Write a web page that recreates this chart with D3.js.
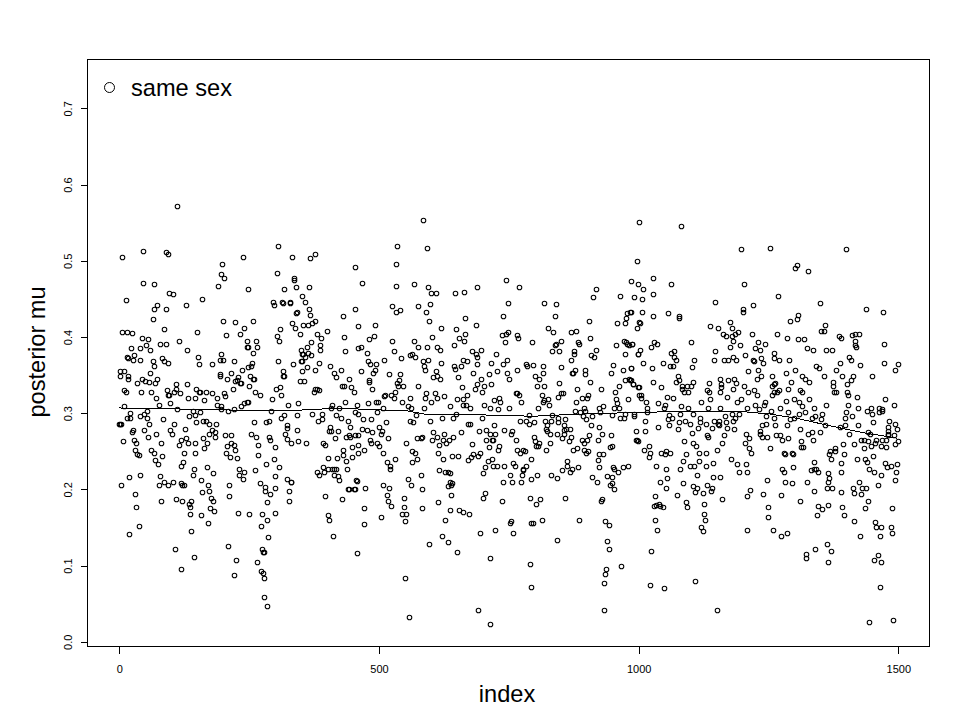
<!DOCTYPE html>
<html><head><meta charset="utf-8">
<script src="https://cdn.jsdelivr.net/npm/d3@7"></script>
<style>html,body{margin:0;background:#fff}svg{display:block}text{font-family:"Liberation Sans",Arial,sans-serif;fill:#000}</style>
</head><body><svg id="c" width="960" height="720"></svg>
<script>
const xTicks=[0,500,1000,1500];
const yTicks=[0,0.1,0.2,0.3,0.4,0.5,0.6,0.7];
const legendLabel="same sex";
const xTitle="index";
const yTitle="posterior mu";
const trendIndex=[0,70,160,250,330,375,430,505,545,592,752,791,868,926,984,1105,1195,1253,1304,1369,1433,1497];
const trendMu=[.3075,.3071,.3053,.3045,.304,.3058,.307,.3048,.3048,.299,.298,.2965,.299,.3004,.3013,.3035,.303,.2996,.294,.284,.275,.268];
const samplesTop=[[112,.572],[6,.505],[46,.513],[90,.512],[94,.510],[198,.496],[239,.505],[195,.483],[202,.478],[191,.467],[247,.464],[306,.520],[333,.505],[368,.504],[376,.509],[454,.493],[304,.485],[337,.478],[336,.475],[318,.463],[341,.466],[366,.466],[351,.455],[358,.447],[46,.471],[66,.470],[12,.449],[96,.458],[104,.457],[73,.442],[67,.438],[89,.438],[129,.442],[160,.450],[64,.424],[87,.411],[6,.407],[15,.407],[25,.406],[150,.407],[200,.421],[223,.420],[258,.421],[241,.412],[233,.405],[206,.403],[295,.446],[297,.442],[314,.446],[316,.445],[329,.446],[329,.445],[366,.437],[368,.430],[340,.432],[342,.433],[431,.428],[453,.437],[460,.415],[377,.421],[372,.419],[364,.417],[354,.417],[333,.419],[339,.413],[310,.411],[347,.404],[304,.402],[381,.404],[389,.399],[399,.408],[433,.400],[44,.399],[56,.398],[115,.396],[245,.396],[264,.396],[308,.396]];
const samplesLeft=[[23,.386],[40,.386],[52,.390],[60,.384],[79,.391],[89,.392],[131,.383],[245,.388],[247,.387],[266,.387],[258,.380],[14,.374],[16,.373],[29,.377],[27,.370],[39,.370],[64,.369],[66,.363],[83,.373],[87,.369],[94,.367],[152,.374],[154,.365],[179,.365],[196,.378],[193,.370],[200,.371],[221,.369],[256,.367],[254,.363],[248,.361],[237,.358],[306,.369],[335,.365],[349,.384],[362,.388],[370,.394],[387,.390],[387,.383],[435,.382],[351,.379],[354,.379],[364,.380],[370,.377],[358,.374],[352,.369],[349,.369],[362,.361],[352,.356],[385,.367],[377,.357],[406,.362],[426,.357],[414,.353],[418,.348],[443,.346],[460,.386],[2,.356],[10,.356],[2,.349],[17,.349],[17,.345],[60,.353],[44,.346],[35,.340],[50,.343],[58,.341],[73,.345],[69,.340],[110,.339],[131,.339],[91,.331],[110,.332],[106,.329],[93,.324],[96,.324],[116,.327],[10,.331],[12,.329],[42,.328],[62,.329],[71,.320],[77,.312],[98,.314],[133,.320],[146,.321],[148,.333],[154,.328],[156,.329],[166,.328],[164,.318],[179,.327],[189,.320],[202,.327],[204,.323],[193,.352],[193,.349],[208,.346],[216,.353],[229,.348],[223,.343],[227,.344],[233,.340],[235,.340],[218,.332],[252,.350],[258,.345],[260,.345],[250,.337],[262,.328],[270,.325],[302,.333],[310,.335],[312,.324],[316,.356],[316,.349],[318,.349],[347,.343],[356,.343],[374,.329],[377,.333],[381,.333],[385,.331],[428,.337],[433,.336],[447,.335],[451,.328],[294,.319],[325,.312],[345,.314],[435,.315],[410,.311],[408,.307],[424,.307],[458,.311],[10,.310],[189,.311],[195,.310],[196,.306],[210,.304],[220,.306],[235,.310],[241,.314],[245,.316],[248,.316],[112,.306],[54,.304],[293,.303],[21,.301],[14,.295],[21,.295],[40,.297],[48,.299],[54,.295],[58,.287],[85,.293],[106,.287],[141,.303],[156,.302],[135,.297],[145,.298],[148,.289],[162,.291],[166,.290],[173,.286],[187,.286],[260,.289],[283,.289],[289,.290],[312,.294],[318,.298],[343,.298],[372,.300],[391,.300],[391,.293],[383,.291],[418,.298],[426,.294],[453,.302],[460,.300],[441,.290],[445,.283],[2,.286],[0,.286],[4,.286],[406,.283],[404,.277],[408,.277],[422,.277],[323,.285],[323,.281],[343,.278],[320,.274],[27,.278],[25,.276],[48,.278],[71,.273],[56,.270],[98,.278],[102,.274],[127,.280],[173,.274],[179,.278],[185,.276],[185,.269],[204,.272],[216,.272],[254,.274],[264,.270],[289,.270],[291,.266],[322,.267],[331,.262],[345,.264],[360,.262],[416,.268],[437,.270],[443,.272],[445,.269],[454,.272],[460,.272],[8,.264],[29,.265],[33,.262],[81,.261],[118,.266],[129,.268],[133,.261],[145,.261],[162,.268],[168,.262],[114,.259],[208,.257],[216,.261],[220,.259],[268,.259],[300,.256],[393,.261],[397,.259],[431,.253],[449,.256],[460,.259],[164,.255],[62,.252],[67,.249],[31,.252],[35,.247],[37,.246],[125,.249],[146,.249],[206,.248],[214,.243],[227,.242],[223,.252],[268,.246],[401,.242],[420,.242],[430,.246],[437,.238],[449,.243],[460,.248],[83,.244],[69,.239],[75,.234],[123,.236],[118,.231],[143,.228],[168,.230],[297,.240],[283,.234],[308,.230],[262,.226],[231,.228],[241,.224],[181,.222],[141,.219],[231,.219],[239,.214],[300,.218],[393,.230],[402,.228],[410,.228],[414,.228],[418,.228],[439,.227],[381,.223],[385,.220],[395,.223],[414,.219],[422,.218],[424,.213],[39,.219],[19,.217],[79,.218],[4,.207],[87,.211],[77,.206],[93,.206],[104,.210],[121,.207],[125,.207],[158,.213],[171,.207],[322,.214],[331,.210],[212,.207],[270,.209],[281,.204],[299,.202],[443,.201],[453,.201],[456,.213]];
const samplesLow=[[31,.195],[33,.178],[37,.152],[19,.142],[81,.185],[110,.188],[121,.185],[119,.209],[160,.197],[173,.199],[139,.185],[135,.182],[137,.177],[137,.168],[158,.167],[170,.156],[139,.146],[177,.189],[181,.186],[175,.176],[183,.172],[212,.192],[229,.170],[250,.169],[274,.168],[299,.170],[285,.160],[272,.153],[287,.138],[281,.199],[291,.195],[285,.184],[326,.185],[327,.198],[331,.210],[210,.127],[108,.122],[143,.112],[225,.108],[266,.106],[119,.096],[220,.088],[274,.123],[276,.119],[279,.118],[272,.093],[276,.091],[278,.084],[279,.060],[285,.047],[397,.192],[401,.167],[403,.161],[412,.139],[441,.201],[451,.201],[428,.188],[458,.117],[457,.212]];
const samplesMidTop=[[585,.554],[535,.520],[593,.518],[533,.496],[1000,.551],[996,.501],[468,.471],[533,.467],[568,.470],[595,.466],[601,.458],[609,.459],[647,.458],[664,.460],[688,.466],[745,.476],[770,.466],[986,.474],[999,.470],[917,.463],[913,.453],[965,.455],[992,.453],[749,.445],[818,.445],[840,.444],[526,.441],[532,.434],[541,.436],[576,.441],[591,.434],[599,.444],[666,.426],[738,.428],[838,.428],[984,.433],[978,.432],[976,.426],[597,.421],[686,.417],[493,.417],[905,.421],[959,.419],[974,.419],[1001,.420],[996,.412],[620,.412],[649,.411],[666,.405],[826,.413],[836,.407],[870,.407],[880,.409],[736,.403],[745,.404],[749,.407],[766,.403],[768,.399],[491,.402],[480,.398],[526,.396],[603,.400],[655,.399],[664,.395],[568,.395],[851,.396],[907,.399],[743,.394],[795,.394],[971,.396],[976,.394],[978,.391],[982,.390],[988,.391],[957,.390],[840,.391],[838,.390],[884,.394],[886,.392],[576,.387],[593,.387],[612,.388],[618,.384],[645,.390],[465,.387],[476,.380],[528,.382],[697,.384],[680,.382],[686,.379],[688,.374],[917,.384],[834,.382],[847,.382],[876,.382],[876,.378],[726,.378],[998,.379],[973,.378],[909,.377],[915,.374],[560,.377],[564,.378],[570,.375],[543,.373],[510,.371],[478,.369],[483,.365],[495,.365],[585,.369],[595,.370],[620,.367],[587,.362],[589,.357],[662,.371],[670,.369],[645,.363],[647,.359],[657,.362],[689,.365],[716,.367],[747,.371],[738,.365],[784,.365],[786,.362],[797,.364],[815,.362],[869,.370],[851,.361],[815,.354],[766,.357],[728,.356],[747,.353],[711,.352],[682,.353],[609,.356],[605,.348],[611,.349],[618,.346],[653,.348],[751,.345],[896,.358],[878,.357],[874,.354],[871,.354],[897,.352],[801,.349],[809,.345],[951,.364],[946,.353],[969,.357],[986,.360],[974,.344],[982,.345],[984,.344],[907,.341],[847,.340],[990,.339],[999,.335],[963,.336],[955,.329],[928,.332],[882,.332],[466,.356],[489,.353],[493,.357],[520,.352],[541,.352],[480,.344],[481,.342],[539,.344],[535,.340],[537,.336],[547,.337],[487,.333],[576,.336],[659,.335],[697,.345],[689,.339],[684,.333],[703,.337],[716,.339],[699,.328],[805,.337],[818,.337],[763,.327],[766,.327],[770,.324],[813,.325],[851,.327],[855,.327],[845,.322],[903,.325],[901,.320],[890,.320],[880,.316],[957,.319],[980,.319],[1001,.325],[512,.325],[510,.323],[524,.325],[530,.328],[528,.321],[559,.320],[545,.316],[591,.327],[589,.321],[607,.327],[611,.320],[601,.315],[626,.323],[651,.319],[662,.319],[670,.324],[661,.311],[668,.312],[675,.308],[636,.310],[703,.311],[722,.318],[732,.321],[734,.315],[714,.307],[730,.306],[751,.308],[774,.315],[818,.318],[826,.319],[828,.311],[807,.308],[816,.316],[478,.314],[495,.316],[499,.316],[555,.310],[562,.307],[587,.307],[507,.307],[894,.307],[923,.307],[932,.310],[953,.308],[959,.314],[963,.308]];
const samplesMidLow=[[497,.302],[572,.298],[649,.299],[622,.295],[643,.295],[599,.291],[699,.295],[470,.293],[485,.293],[514,.289],[560,.291],[566,.289],[672,.286],[676,.286],[722,.285],[772,.291],[784,.291],[788,.298],[788,.286],[799,.289],[820,.290],[832,.290],[834,.298],[845,.289],[844,.295],[859,.293],[857,.285],[892,.297],[899,.293],[909,.285],[923,.283],[911,.297],[926,.302],[948,.298],[965,.295],[971,.294],[973,.299],[992,.297],[878,.303],[888,.302],[897,.303],[468,.280],[476,.278],[487,.276],[501,.282],[505,.277],[504,.273],[518,.268],[605,.276],[603,.266],[612,.270],[626,.273],[624,.265],[634,.266],[643,.269],[657,.276],[630,.261],[616,.259],[693,.277],[707,.278],[713,.273],[724,.274],[707,.265],[718,.266],[720,.265],[741,.278],[757,.277],[755,.273],[763,.266],[680,.260],[732,.258],[730,.253],[711,.256],[799,.269],[801,.264],[809,.262],[803,.258],[807,.257],[830,.262],[822,.252],[824,.285],[822,.280],[824,.277],[830,.273],[842,.274],[853,.268],[857,.278],[861,.280],[867,.280],[857,.274],[869,.270],[865,.264],[890,.265],[901,.265],[894,.261],[905,.272],[930,.273],[921,.265],[946,.272],[949,.257],[944,.256],[994,.277],[994,.265],[998,.264],[874,.252],[882,.255],[894,.252],[899,.249],[903,.251],[924,.247],[932,.247],[921,.239],[863,.238],[924,.230],[863,.231],[872,.227],[867,.223],[853,.226],[884,.230],[951,.230],[953,.227],[961,.224],[969,.230],[980,.231],[483,.265],[485,.262],[497,.262],[501,.257],[508,.249],[472,.252],[553,.261],[564,.251],[570,.249],[573,.268],[580,.268],[583,.269],[614,.249],[641,.244],[653,.245],[624,.240],[682,.247],[695,.248],[678,.243],[691,.244],[672,.239],[765,.252],[772,.249],[778,.252],[782,.251],[718,.241],[709,.238],[792,.240],[530,.240],[516,.236],[574,.240],[564,.236],[522,.231],[522,.227],[741,.232],[720,.232],[728,.231],[705,.230],[759,.235],[761,.232],[784,.232],[778,.228],[778,.226],[701,.222],[616,.226],[628,.223],[632,.223],[637,.222],[580,.220],[753,.220],[776,.219],[805,.219],[832,.220],[842,.215],[793,.214],[739,.211],[757,.211],[774,.211],[911,.217],[919,.211],[940,.218],[948,.217],[949,.209],[944,.206],[953,.201],[555,.214],[562,.207],[508,.207],[520,.202],[474,.202],[583,.201],[636,.210],[641,.209],[632,.205],[639,.206],[516,.193],[549,.190],[518,.186],[524,.179],[472,.176],[549,.177],[582,.176],[545,.169],[553,.169],[503,.164],[551,.159],[614,.184],[639,.193],[637,.173],[655,.173],[661,.171],[674,.169],[628,.160],[705,.196],[701,.190],[736,.185],[790,.190],[811,.188],[803,.182],[859,.189],[930,.188],[928,.185],[755,.159],[753,.156],[797,.157],[793,.156],[813,.160],[886,.161],[936,.159],[942,.154],[472,.155],[695,.143],[724,.148],[759,.144],[843,.134],[622,.139],[632,.131],[597,.129],[651,.118],[940,.133],[942,.123],[713,.110],[790,.103],[938,.096],[936,.089],[967,.100],[934,.078],[551,.084],[792,.072],[691,.042],[934,.042],[557,.033],[714,.024]];
const samplesRightTop=[[1082,.546],[1198,.516],[1252,.518],[1400,.516],[1304,.495],[1302,.491],[1327,.487],[1027,.478],[1009,.463],[1063,.470],[1202,.470],[1007,.450],[1027,.457],[1148,.446],[1269,.454],[1221,.443],[1350,.445],[1200,.438],[1200,.433],[1437,.437],[1471,.434],[1007,.434],[985,.433],[1028,.428],[1057,.432],[1077,.428],[1077,.425],[1306,.430],[1304,.424],[1292,.421],[1358,.417],[1003,.419],[1175,.420],[1138,.415],[1152,.412],[1179,.412],[1163,.405],[1192,.407],[1186,.405],[1169,.402],[1179,.402],[1219,.405],[1352,.409],[1356,.409],[1410,.403],[1417,.405],[1425,.405],[1385,.402],[1389,.399],[1417,.396],[1267,.404],[1285,.399],[1306,.398],[1319,.398],[1181,.396],[1229,.394],[1244,.392],[1030,.394],[1023,.388],[1036,.391],[988,.391],[1100,.394],[1175,.388],[1196,.390],[1225,.386],[1233,.384],[1416,.390],[1419,.388],[1473,.391],[1325,.386],[1335,.383],[1360,.383],[1373,.384],[1003,.383],[998,.379],[1063,.380],[1069,.382],[1069,.375],[1071,.371],[1148,.382],[1261,.380],[1204,.377],[1146,.371],[1165,.370],[1173,.371],[1181,.374],[1188,.370],[1221,.370],[1223,.369],[1236,.373],[1240,.366],[1261,.373],[1271,.371],[1290,.371],[1406,.374],[1408,.371],[1387,.367],[1427,.364],[1473,.367],[1500,.365],[1494,.358],[1009,.366],[1046,.367],[1061,.362],[1067,.362],[1025,.360],[986,.360],[1102,.361],[1107,.370],[1342,.362],[1348,.360],[1302,.357],[1283,.354],[1211,.356],[1229,.357],[1381,.357],[1075,.350],[1235,.350],[1227,.346],[1256,.349],[1315,.350],[1356,.350],[1412,.350],[1392,.349],[1450,.349],[1078,.344],[1028,.341],[1071,.341],[985,.344],[990,.339],[1000,.335],[1156,.345],[1173,.344],[1184,.345],[1188,.340],[1202,.337],[1136,.340],[1294,.342],[1321,.345],[1329,.342],[1375,.342],[1408,.344],[1402,.339],[1084,.337],[1094,.337],[1100,.337],[1105,.341],[1044,.335],[1084,.333],[1159,.339],[1159,.335],[1256,.336],[1260,.339],[1263,.340],[1375,.336],[1132,.331],[1136,.329],[1157,.329],[1182,.332],[1088,.329],[1096,.329],[1005,.325],[1005,.320],[1015,.316],[1055,.322],[1067,.320],[1038,.314],[1050,.312],[1211,.328],[1223,.331],[1227,.325],[1266,.329],[1271,.331],[1260,.328],[1256,.325],[1288,.332],[1311,.331],[1315,.329],[1329,.319],[1300,.319],[1308,.315],[1283,.317],[1402,.329],[1404,.325],[1377,.328],[1381,.328],[1171,.322],[1138,.319],[1121,.315],[1198,.319],[1190,.316],[1421,.322],[1475,.319],[1491,.312],[1404,.312],[1360,.311],[1225,.312],[1244,.316],[1242,.312],[1315,.310],[1273,.308],[1338,.307],[1017,.308],[1048,.307],[1082,.310],[1096,.307],[1134,.307],[1157,.307],[1208,.307],[1231,.306],[1423,.307],[1448,.307],[1462,.307],[1469,.306]];
const samplesRightLow=[[992,.299],[1017,.302],[1013,.291],[1038,.283],[1013,.277],[996,.265],[1019,.258],[1011,.252],[1021,.249],[1019,.243],[1059,.298],[1065,.294],[1057,.293],[1059,.285],[1078,.289],[1090,.290],[1098,.286],[1080,.300],[1105,.299],[1075,.280],[1102,.275],[1119,.294],[1119,.289],[1129,.286],[1115,.281],[1142,.281],[1146,.291],[1154,.291],[1152,.287],[1154,.285],[1169,.289],[1171,.281],[1165,.272],[1132,.272],[1134,.269],[1184,.280],[1182,.291],[1167,.297],[1179,.299],[1186,.295],[1194,.300],[1206,.274],[1213,.268],[1204,.262],[1213,.255],[1217,.248],[1234,.277],[1233,.273],[1238,.270],[1248,.270],[1238,.285],[1246,.286],[1263,.285],[1286,.285],[1246,.297],[1260,.295],[1292,.293],[1300,.294],[1288,.302],[1308,.300],[1321,.302],[1254,.303],[1265,.272],[1273,.272],[1277,.266],[1288,.268],[1310,.280],[1327,.274],[1333,.276],[1350,.276],[1335,.265],[1313,.264],[1340,.297],[1333,.295],[1354,.299],[1352,.293],[1358,.285],[1387,.282],[1398,.285],[1406,.274],[1423,.285],[1452,.289],[1400,.302],[1410,.297],[1398,.295],[1441,.276],[1446,.274],[1429,.265],[1433,.265],[1442,.264],[1448,.258],[1458,.266],[1456,.261],[1469,.266],[1477,.265],[1467,.257],[1477,.256],[1483,.291],[1493,.287],[1481,.282],[1481,.277],[1481,.274],[1481,.272],[1498,.280],[1491,.272],[1494,.260],[1500,.264],[1439,.303],[1450,.300],[1462,.302],[1469,.304],[1088,.264],[1104,.261],[1111,.258],[1150,.253],[1161,.261],[1044,.249],[1050,.247],[1053,.251],[1061,.249],[1092,.247],[1117,.248],[1129,.248],[1177,.240],[1190,.234],[1206,.234],[1252,.255],[1279,.249],[1281,.247],[1296,.248],[1298,.247],[1313,.256],[1317,.256],[1369,.251],[1367,.247],[1379,.255],[1379,.251],[1394,.260],[1415,.260],[1433,.255],[1396,.247],[1371,.240],[1435,.241],[1439,.237],[1452,.244],[1421,.240],[1034,.231],[1053,.228],[1080,.228],[1086,.238],[1098,.232],[1107,.231],[1117,.238],[1130,.231],[1144,.235],[1194,.224],[1208,.223],[1277,.228],[1279,.224],[1298,.230],[1337,.236],[1331,.226],[1337,.228],[1342,.228],[1346,.223],[1364,.222],[1367,.215],[1390,.235],[1389,.224],[1444,.228],[1454,.223],[1466,.220],[1475,.235],[1479,.230],[1485,.231],[1498,.234],[1496,.223],[1493,.213],[1113,.220],[1055,.215],[1042,.211],[1052,.203],[1086,.209],[1104,.205],[1113,.203],[1132,.207],[1144,.217],[1156,.217],[1142,.202],[1140,.198],[1109,.197],[1123,.196],[1073,.193],[1032,.192],[1161,.188],[1092,.184],[1094,.178],[1248,.213],[1281,.211],[1296,.209],[1325,.211],[1365,.210],[1215,.200],[1209,.192],[1240,.195],[1275,.193],[1310,.185],[1338,.199],[1362,.202],[1373,.202],[1390,.197],[1412,.202],[1414,.196],[1425,.210],[1429,.194],[1431,.203],[1437,.203],[1460,.206],[1442,.186],[1346,.179],[1354,.175],[1365,.180],[1344,.167],[1392,.177],[1396,.167],[1414,.159],[1435,.176],[1487,.176],[1250,.177],[1250,.164],[1258,.148],[1209,.148],[1275,.140],[1285,.143],[1030,.179],[1034,.180],[1040,.181],[1042,.179],[1046,.177],[1032,.160],[1036,.147],[1125,.181],[1125,.168],[1127,.160],[1121,.151],[1123,.146],[1456,.158],[1458,.151],[1466,.151],[1485,.151],[1487,.143],[1427,.139],[1464,.139],[1362,.129],[1340,.122],[1371,.120],[1323,.116],[1323,.110],[1364,.106],[1460,.114],[1454,.108],[1467,.105],[1023,.120],[1021,.075],[1048,.071],[1109,.080],[1464,.072],[1150,.042],[1444,.026],[1489,.029]];

const svg=d3.select("#c");
const x=d3.scaleLinear().domain([0,1500]).range([119.3,898.3]);
const y=d3.scaleLinear().domain([0,0.7]).range([642.3,108.9]);
const plot={l:87.5,r:929.5,t:59.5,b:646.5};
const g=svg.append("g");
g.append("rect").attr("x",plot.l).attr("y",plot.t).attr("width",plot.r-plot.l).attr("height",plot.b-plot.t).attr("fill","none").attr("stroke","#000").attr("shape-rendering","crispEdges");
const allSamples=[samplesTop,samplesLeft,samplesLow,samplesMidTop,samplesMidLow,samplesRightTop,samplesRightLow].flat();
g.append("g").attr("shape-rendering","geometricPrecision").selectAll("circle").data(allSamples).join("circle")
 .attr("cx",d=>Math.round(x(d[0]))+.5).attr("cy",d=>Math.round(y(d[1]))+.5).attr("r",2.3).attr("fill","none").attr("stroke","#000").attr("stroke-width",1.05);
const line=d3.line().x(d=>x(d[0])).y(d=>y(d[1]));
g.append("path").attr("d",line(trendIndex.map((v,i)=>[v,trendMu[i]]))).attr("fill","none").attr("stroke","#000").attr("stroke-width",1).attr("shape-rendering","crispEdges");
const xa=svg.append("g").attr("transform",`translate(0,${plot.b})`).call(d3.axisBottom(x).tickValues(xTicks).tickFormat(d3.format("d")).tickSize(7).tickPadding(12));
const ya=svg.append("g").attr("transform",`translate(${plot.l},0)`).call(d3.axisLeft(y).tickValues(yTicks).tickFormat(d3.format(".1f")).tickSize(7));
[xa,ya].forEach(a=>{a.select(".domain").attr("stroke","none");a.selectAll("line").attr("stroke","#000").attr("shape-rendering","crispEdges");a.selectAll("text").attr("font-size",11).attr("font-family",'"Liberation Sans",Arial,sans-serif');});
ya.selectAll("text").attr("x",null).attr("dy",null).attr("text-anchor","middle").each(function(d){d3.select(this).attr("transform",`translate(-16,${y(d)}) rotate(-90)`);});
ya.selectAll(".tick").attr("transform","translate(0,0)");
ya.selectAll(".tick line").attr("transform",d=>`translate(0,${y(d)})`);
g.append("circle").attr("cx",109.5).attr("cy",87.5).attr("r",5).attr("fill","none").attr("stroke","#000");
svg.append("text").attr("x",131).attr("y",96).attr("font-size",23.6).text(legendLabel);
svg.append("text").attr("x",507).attr("y",702).attr("text-anchor","middle").attr("font-size",23.6).text(xTitle);
svg.append("text").attr("transform","translate(45,352) rotate(-90)").attr("text-anchor","middle").attr("font-size",23.6).text(yTitle);
</script></body></html>
